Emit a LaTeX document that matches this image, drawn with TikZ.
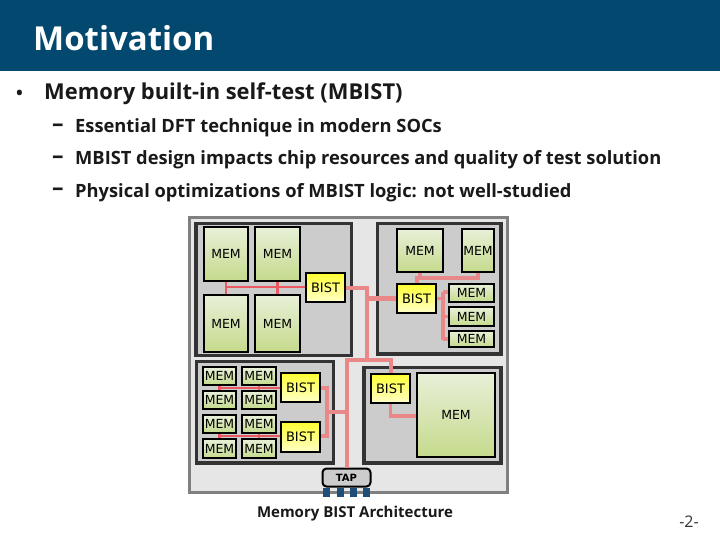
\documentclass[tikz,border=0pt]{standalone}
\usepackage{fontspec}
\setmainfont{Open Sans}
\newfontfamily\memfont{DejaVu Sans}
\definecolor{hdr}{HTML}{03486F}
\definecolor{panel}{HTML}{E6E6E6}
\definecolor{panelb}{HTML}{808080}
\definecolor{chipf}{HTML}{CCCCCC}
\definecolor{chipb}{HTML}{333333}
\definecolor{wirea}{HTML}{EB5A62}
\definecolor{wireb}{HTML}{E88888}
\definecolor{pinc}{HTML}{1F4E79}
\definecolor{memt}{HTML}{E8F0D8}
\definecolor{memb}{HTML}{C5DA8C}
\definecolor{bistt}{HTML}{FFFF33}
\definecolor{bistb}{HTML}{FFFFC8}
\tikzset{
  chip/.style={draw=chipb,line width=3.4pt,fill=chipf},
  memnode/.style={draw=black,line width=2pt,top color=memt,bottom color=memb,inner sep=0,font=\memfont\fontsize{12.5}{12}\selectfont},
  bistnode/.style={draw=black,line width=2pt,top color=bistt,bottom color=bistb,inner sep=0,font=\memfont\fontsize{13}{12}\selectfont},
  thin wire/.style={draw=wirea,line width=2.2pt},
  mid wire/.style={draw=wireb,line width=3.2pt},
  bus wire/.style={draw=wireb,line width=4pt},
  fat wire/.style={draw=wireb,line width=5.5pt},
  pin/.style={fill=pinc,draw=none,minimum width=7pt,minimum height=9pt,inner sep=0},
  txt/.style={anchor=base west,inner sep=0,font=\bfseries\fontsize{18.3}{20}\selectfont,text=black!90},
  dashtxt/.style={anchor=base west,inner sep=0,font=\bfseries\fontsize{23}{20}\selectfont,text=black!90}
}
\newcommand{\memx}[5]{\node[memnode,minimum width={(#4-#2)*1pt},minimum height={(#5-#3)*1pt}] (#1) at ({(#2+#4)/2},{(#3+#5)/2}) {MEM};}
\newcommand{\bistx}[5]{\node[bistnode,minimum width={(#4-#2)*1pt},minimum height={(#5-#3)*1pt}] (#1) at ({(#2+#4)/2},{(#3+#5)/2}) {BIST};}
\begin{document}
\begin{tikzpicture}[x=1pt,y=-1pt]
\useasboundingbox (0,0) rectangle (720,540);
\fill[white] (0,0) rectangle (720,540);
\fill[hdr] (0,0) rectangle (720,71);
\node[anchor=base west,inner sep=0,text=white,font=\bfseries\fontsize{33}{36}\selectfont] (title) at (33,51) {Motivation};
\node[txt,font=\bfseries\fontsize{18}{20}\selectfont] (b0) at (16,100) {•};
\node[txt,font=\bfseries\fontsize{21.9}{24}\selectfont] (t0) at (44,100) {Memory built-in self-test (MBIST)};
\node[dashtxt] (d1) at (52,132) {–};
\node[txt] (t1) at (75,133) {Essential DFT technique in modern SOCs};
\node[dashtxt] (d2) at (52,164) {–};
\node[txt] (t2) at (75,165) {MBIST design impacts chip resources and quality of test solution};
\node[dashtxt] (d3) at (52,196) {–};
\node[txt] (t3) at (75,197) {Physical optimizations of MBIST logic: not well-studied};
% panel
\draw[fill=panel,draw=panelb,line width=3pt] (189.5,217.5) rectangle (507,492.5);
\draw[chip] (196,223.5) rectangle (351.5,355.5);
\draw[chip] (377.5,223.5) rectangle (501,354);
\draw[chip] (196.5,361.5) rectangle (333.5,463);
\draw[chip] (364,367.5) rectangle (501,463);
% nodes
\memx{m1}{204}{227}{248}{281}
\memx{m2}{255}{227}{300}{281}
\memx{m3}{204}{295}{248}{352}
\memx{m4}{255}{295}{300}{352}
\bistx{b1}{306}{273}{345}{302}
\memx{m5}{397}{229}{443}{272}
\memx{m6}{462}{229}{494}{272}
\bistx{b2}{397}{284}{436}{313}
\memx{m7}{449}{284}{494}{302}
\memx{m8}{449}{307}{494}{326}
\memx{m9}{449}{331}{494}{347}
\memx{n1}{203}{367}{236}{385}
\memx{n2}{242}{367}{276}{385}
\memx{n3}{203}{391}{236}{409}
\memx{n4}{242}{391}{276}{409}
\memx{n5}{203}{415}{236}{433}
\memx{n6}{242}{415}{276}{433}
\memx{n7}{203}{439}{236}{458}
\memx{n8}{242}{439}{276}{458}
\bistx{b3}{281}{373}{320}{402}
\bistx{b4}{281}{422}{320}{452}
\bistx{b5}{371}{374}{410}{403}
\memx{m10}{417}{373}{495}{457}
\node[draw=black,line width=2pt,rounded corners=4pt,fill=chipf,minimum width=48pt,minimum height=18pt,inner sep=0,font=\memfont\bfseries\fontsize{10}{10}\selectfont] (tap) at (346.5,477.5) {TAP};
\node[pin] (p1) at (326.5,492.5) {};
\node[pin] (p2) at (340.5,492.5) {};
\node[pin] (p3) at (353.5,492.5) {};
\node[pin] (p4) at (366.5,492.5) {};
% junctions
\coordinate (j1) at (366.5,288);
\coordinate (j2) at (366.5,360);
\coordinate (j3) at (346.5,360);
\coordinate (j4) at (346.5,412);
\coordinate (j5) at (327,412);
% thin wires
\draw[thin wire] (m1.south) -- (m3.north);
\draw[thin wire] (m2.south) -- (m4.north);
\draw[thin wire] (226,287) -- (b1.west |- 0,287);
\draw[thin wire] (n1.south) -- (n3.north);
\draw[thin wire] (n2.south) -- (n4.north);
\draw[thin wire] (n5.south) -- (n7.north);
\draw[thin wire] (n6.south) -- (n8.north);
\draw[thin wire] (219.5,388) -- (b3.west |- 0,388);
\draw[thin wire] (219.5,436) -- (b4.west |- 0,436);
% mid wires
\draw[mid wire] (m5.south) -- (420,278);
\draw[mid wire] (b2.north -| 417,284) -- (417,278) -- (478,278) -- (m6.south -| 478,272);
\draw[mid wire] (b2.east) -- (443,298.5);
\draw[mid wire] (443,292) -- (443,340);
\draw[mid wire] (m7.west |- 0,292) -- (443,292);
\draw[mid wire] (m8.west) -- (443,316.5);
\draw[mid wire] (m9.west) -- (443,339);
\draw[mid wire] (b5.south) |- (m10.west |- 0,416);
\draw[bus wire] (b1.east |- 0,288) -- (j1) -- (j2);
\draw[fat wire] (b2.west) -- (366.5,298.5);
\draw[bus wire] (b5.north) |- (j3) -- (tap.north -| j3);
\draw[bus wire] (j4) -- (j5);
\draw[bus wire] (b3.east |- 0,388) -| (j5) |- (b4.east |- 0,436);
% bottom labels
\node[anchor=base,inner sep=0,font=\bfseries\fontsize{15}{16}\selectfont,text=black!90] (cap) at (355,517) {Memory BIST Architecture};
\node[anchor=base,inner sep=0,font=\fontsize{16}{16}\selectfont,text=black!80] (pg) at (689,527) {-2-};
\end{tikzpicture}
\end{document}
